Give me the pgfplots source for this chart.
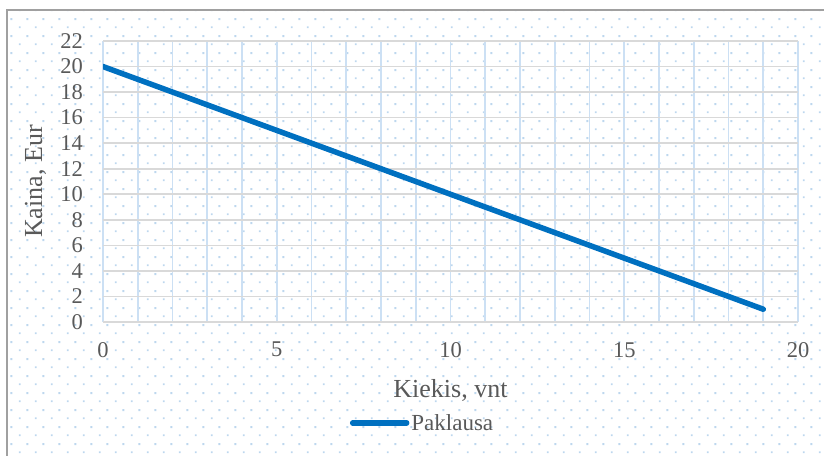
\documentclass[border=0pt]{standalone}
\usepackage{pgfplots}
\pgfplotsset{compat=1.18}
\usepackage{fontspec}
\setmainfont{Liberation Serif}
\usetikzlibrary{patterns}

\definecolor{lineblue}{RGB}{0,112,192}
\definecolor{dotblue}{RGB}{189,215,238}
\definecolor{gridblue}{RGB}{204,224,244}
\definecolor{gridgray}{RGB}{217,217,217}
\definecolor{labelgray}{RGB}{89,89,89}
\definecolor{framegray}{RGB}{160,160,160}

% Excel-like dotted chart background
\pgfdeclarepatternformonly{exceldots}{\pgfqpoint{0bp}{0bp}}{\pgfqpoint{16bp}{17bp}}{\pgfqpoint{16bp}{17bp}}{%
  \pgfpathrectangle{\pgfqpoint{3bp}{3bp}}{\pgfqpoint{2bp}{2bp}}%
  \pgfpathrectangle{\pgfqpoint{11bp}{11.5bp}}{\pgfqpoint{2bp}{2bp}}%
  \pgfusepath{fill}}

\begin{document}
\begin{tikzpicture}[x=1bp,y=1bp]
\useasboundingbox (0,0) rectangle (824,456);
\fill[pattern=exceldots, pattern color=dotblue] (8,0) rectangle (824,445);
\draw[framegray, line width=2bp] (7,0) -- (7,446) -- (824,446);

\begin{axis}[
    at={(103bp,134bp)}, anchor=south west,
    scale only axis,
    width=695bp, height=281bp,
    xmin=0, xmax=20,
    ymin=0, ymax=22,
    xtick={0,5,10,15,20},
    minor xtick={1,2,3,4,6,7,8,9,11,12,13,14,16,17,18,19},
    ytick={0,2,...,22},
    grid=both,
    major x grid style={draw=gridblue, line width=1.6bp},
    minor x grid style={draw=gridblue, line width=1.6bp},
    major y grid style={draw=gridgray, line width=1.6bp},
    axis line style={draw=none},
    tick style={draw=none},
    /pgf/number format/assume math mode=true,
    tick label style={font=\fontsize{22.5bp}{24bp}\selectfont, text=labelgray},
    xticklabel style={anchor=north, inner sep=0pt, yshift=-20bp},
    yticklabel style={anchor=east, inner sep=0pt, xshift=-20bp},
    xlabel={Kiekis, vnt},
    ylabel={Kaina, Eur},
    label style={font=\fontsize{26bp}{28bp}\selectfont, text=labelgray},
    xlabel style={at={(axis description cs:0.5,-0.267)}, anchor=base},
    ylabel style={at={(axis description cs:-0.097,0.5)}, anchor=center},
    legend style={at={(axis description cs:0.355,-0.359)}, anchor=west,
        draw=none, fill=none, inner sep=0pt,
        font=\fontsize{23bp}{25bp}\selectfont, text=labelgray,
        nodes={inner sep=2bp}},
    legend image code/.code={\draw[#1, line cap=round] (0bp,0bp) -- (54bp,0bp);},
]
\addplot[color=lineblue, line width=5.5bp, line cap=round, line join=round] coordinates {
    (0,20) (1,19) (2,18) (3,17) (4,16) (5,15) (6,14) (7,13) (8,12) (9,11)
    (10,10) (11,9) (12,8) (13,7) (14,6) (15,5) (16,4) (17,3) (18,2) (19,1)
};
\addlegendentry{Paklausa}
\end{axis}
\end{tikzpicture}
\end{document}
